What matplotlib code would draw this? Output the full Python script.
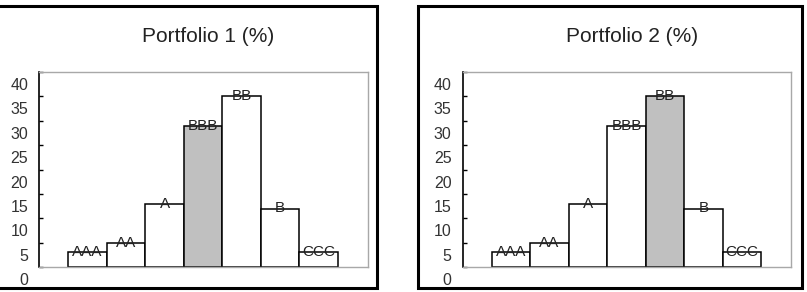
import matplotlib
matplotlib.use('Agg')
import matplotlib.pyplot as plt
import matplotlib.transforms as mtransforms
from matplotlib.patches import Rectangle

# ── Data ──
ratings = ['AAA', 'AA', 'A', 'BBB', 'BB', 'B', 'CCC']
portfolio1 = [3, 5, 13, 29, 35, 12, 3]
portfolio2 = [3, 5, 13, 29, 35, 12, 3]
highlight1 = 'BBB'
highlight2 = 'BB'
titles = ['Portfolio 1 (%)', 'Portfolio 2 (%)']
yticks = [0, 5, 10, 15, 20, 25, 30, 35, 40]

plt.rcParams['font.family'] = ['Liberation Sans', 'DejaVu Sans']

W, H = 807, 292
fig = plt.figure(figsize=(W / 100, H / 100), dpi=100)


def px_box(left, top, right, bottom):
    return [left / W, 1 - bottom / H, (right - left) / W, (bottom - top) / H]


# outer panel frames
for (l, t, r, b) in [(-10, 5.5, 376.5, 287.5), (418, 5.5, 802, 287.5)]:
    fig.patches.append(Rectangle((l / W, 1 - b / H), (r - l) / W, (b - t) / H,
                                 transform=fig.transFigure, fill=False,
                                 edgecolor='black', linewidth=2.2))

panels = [
    (px_box(39.3, 72, 367.7, 267), portfolio1, highlight1, titles[0], 208),
    (px_box(462.7, 72, 791, 267), portfolio2, highlight2, titles[1], 632),
]

for rect, values, hl, title, tx in panels:
    ax = fig.add_axes(rect)
    x = range(len(ratings))
    colors = ['#c0c0c0' if r == hl else 'white' for r in ratings]
    ax.bar(x, values, width=1.0, color=colors, edgecolor='black', linewidth=1.1, zorder=2)
    for xi, v, lab in zip(x, values, ratings):
        ax.text(xi, v, lab, ha='center', va='center', fontsize=11, color='#222222', zorder=3)

    ax.set_xlim(-1.25, 7.27)
    ax.set_ylim(0, 40)
    ax.set_xticks([])
    ax.set_yticks(yticks)
    ax.tick_params(axis='y', direction='in', length=3, width=1, pad=8,
                   labelsize=11.5, labelcolor='#333333')
    # tick labels sit half a step below their ticks
    offset = mtransforms.ScaledTranslation(0, -12 / 100, fig.dpi_scale_trans)
    for lbl in ax.get_yticklabels():
        lbl.set_transform(lbl.get_transform() + offset)

    ax.spines['left'].set_color('black')
    ax.spines['left'].set_linewidth(1.2)
    for s in ['top', 'right', 'bottom']:
        ax.spines[s].set_color('#a8a8a8')
        ax.spines[s].set_linewidth(1.0)

    fig.text(tx / W, 1 - 37 / H, title, ha='center', va='center', fontsize=15, color='#222222')

fig.savefig('out.png', dpi=100)
